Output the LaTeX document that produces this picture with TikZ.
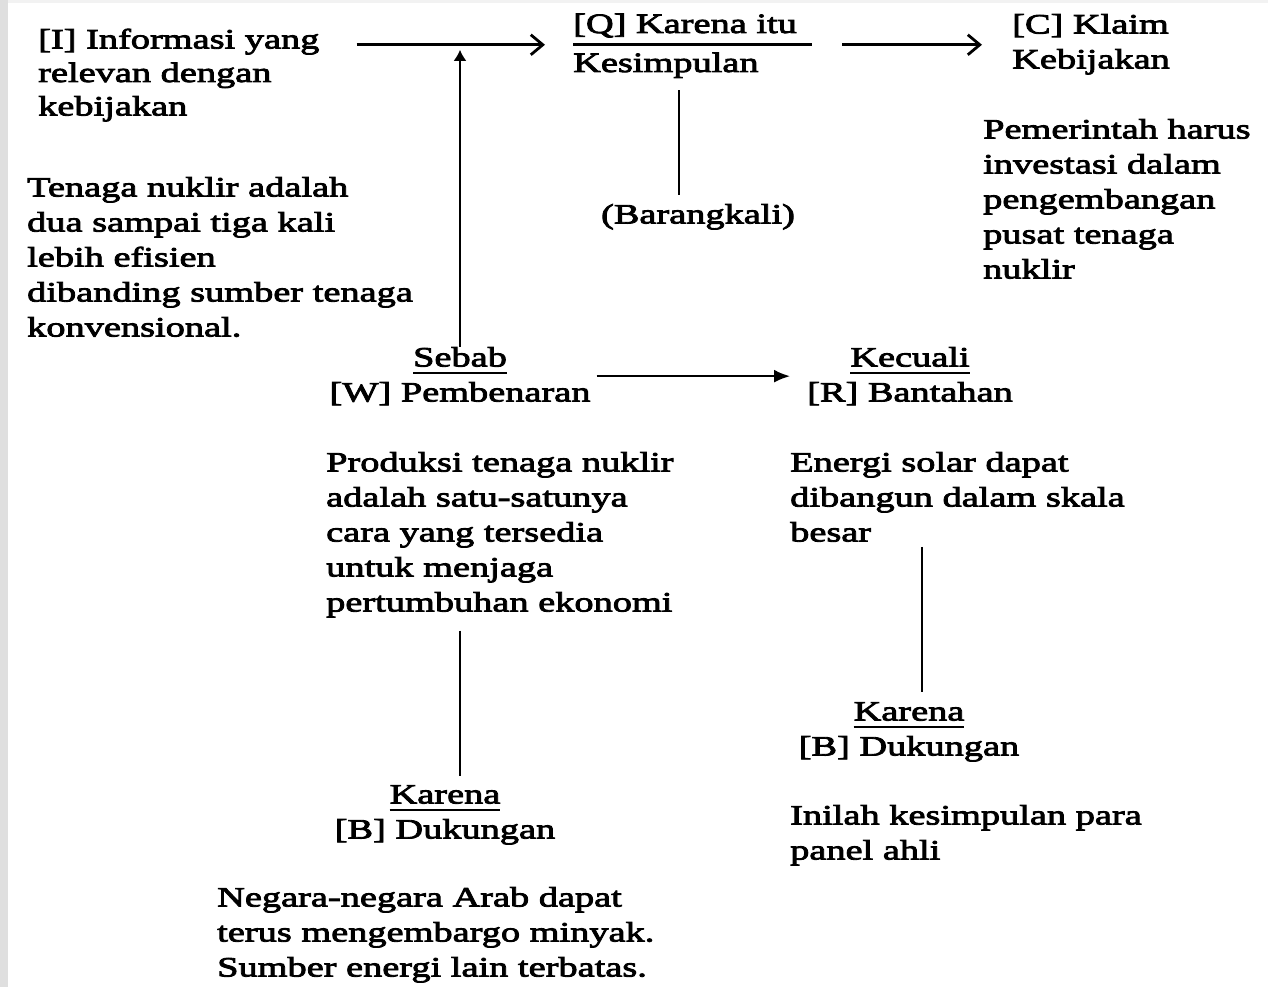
\documentclass[tikz,border=0pt]{standalone}
\usepackage{fontspec}
\setmainfont{Liberation Serif}[FakeStretch=1.37,FakeBold=3]
\usetikzlibrary{arrows.meta,calc}
% underlined heading word with a heavy rule
\newcommand\uword[1]{\setbox0\hbox{#1}\rlap{\rule[-7pt]{\wd0}{2pt}}\box0}
\begin{document}
\begin{tikzpicture}[x=1pt,y=-1pt,
  txt/.style={font=\fontsize{28}{35}\selectfont, inner sep=0pt, align=left},
  ctr/.style={txt, align=center},
  conn/.style={line width=2.8pt},
  barb/.style={line width=2.8pt, -{Straight Barb[length=12pt,width=20pt]}},
  tri/.style={line width=2pt, -{Latex[length=16pt,width=13pt]}},
  uparr/.style={line width=2.6pt, -{Latex[length=11pt,width=13pt]}},
]
\useasboundingbox (0,0) rectangle (1268,987);
\fill[gray!25] (0,0) rectangle (8,987);
\fill[gray!10] (8,0) rectangle (1268,3);

% nodes are placed by the baseline of their last line
% data, qualifier, claim
\node[txt, anchor=base west] (I) at (38,115.5) {[I] Informasi yang\\[-1.5pt]relevan dengan\\[-1.5pt]kebijakan};
\node[txt, anchor=base west] (D) at (27,336.5) {Tenaga nuklir adalah\\dua sampai tiga kali\\lebih efisien\\dibanding sumber tenaga\\konvensional.};
\node[txt, anchor=base west] (Q) at (573,72) {[Q] Karena itu\\[4pt]Kesimpulan};
\node[txt, anchor=base] (Bk) at (698,223.5) {(Barangkali)};
\node[txt, anchor=base west] (C) at (1012,68.5) {[C] Klaim\\Kebijakan};
\node[txt, anchor=base west] (CT) at (983,278.5) {Pemerintah harus\\investasi dalam\\pengembangan\\pusat tenaga\\nuklir};

% warrant and rebuttal
\node[ctr, anchor=base] (W) at (460,401.5) {\uword{Sebab}\\{[W]} Pembenaran};
\node[ctr, anchor=base] (R) at (910,401.5) {\uword{Kecuali}\\{[R]} Bantahan};
\node[txt, anchor=base west] (WT) at (326,611.5) {Produksi tenaga nuklir\\adalah satu-satunya\\cara yang tersedia\\untuk menjaga\\pertumbuhan ekonomi};
\node[txt, anchor=base west] (RT) at (790,541.5) {Energi solar dapat\\dibangun dalam skala\\besar};

% backings
\node[ctr, anchor=base] (B1) at (445,838.5) {\uword{Karena}\\{[B]} Dukungan};
\node[txt, anchor=base west] (B1T) at (217,976.5) {Negara-negara Arab dapat\\terus mengembargo minyak.\\Sumber energi lain terbatas.};
\node[ctr, anchor=base] (B2) at (909,755.5) {\uword{Karena}\\{[B]} Dukungan};
\node[txt, anchor=base west] (B2T) at (790,859.5) {Inilah kesimpulan para\\panel ahli};

% rule under the qualifier
\draw[line width=2.6pt] ([yshift=1pt]Q.west) -- ([xshift=15pt,yshift=1pt]Q.east);

% connectors
\draw[barb, shorten <=37pt, shorten >=28pt] ([yshift=1pt]I.east |- Q.west) -- ([yshift=1pt]Q.west);
\draw[barb, shorten <=45pt, shorten >=30pt] ([yshift=1pt]Q.east) -- ([yshift=1pt]Q.east -| C.west);
\draw[uparr, shorten >=4pt] (W.north) -- (W.north |- Q.west);
\draw[conn, shorten <=12pt, shorten >=9pt] ([xshift=-19pt]Q.south -| Bk.north) -- ([xshift=-19pt]Bk.north);
\draw[tri, shorten <=6pt, shorten >=17pt] (W.east) -- (W.east -| R.west);
\draw[conn, shorten <=13pt, shorten >=9pt] (WT.south -| W.south) -- (B1.north -| W.south);
\draw[conn, shorten <=5pt, shorten >=10pt] ([xshift=13pt]B2.north |- RT.south) -- ([xshift=13pt]B2.north);
\end{tikzpicture}
\end{document}
